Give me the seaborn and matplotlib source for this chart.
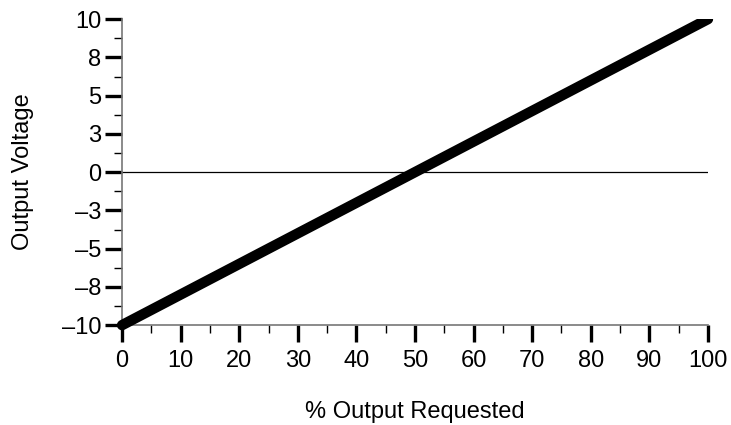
import matplotlib
matplotlib.use('Agg')
import matplotlib.pyplot as plt
from matplotlib.patches import Rectangle
import seaborn as sns
import pandas as pd

# data
pct_requested = [0, 100]
output_volts = [-10, 10]

y_ticks = [-10, -7.5, -5, -2.5, 0, 2.5, 5, 7.5, 10]
y_tick_labels = ['\u201310', '\u20138', '\u20135', '\u20133', '0', '3', '5', '8', '10']
x_ticks = [0, 10, 20, 30, 40, 50, 60, 70, 80, 90, 100]

sns.set_style('ticks')
plt.rcParams['font.family'] = ['Liberation Sans', 'DejaVu Sans']
plt.rcParams['text.color'] = 'black'
plt.rcParams['axes.labelcolor'] = 'black'
plt.rcParams['xtick.labelcolor'] = 'black'
plt.rcParams['ytick.labelcolor'] = 'black'

df = pd.DataFrame({'pct': pct_requested, 'volts': output_volts})

fig = plt.figure(figsize=(7.31, 4.25), dpi=100)
ax = fig.add_axes([0.167, 0.235, 0.8015, 0.72])

ax.axhline(0, color='black', lw=0.9, zorder=2)
sns.lineplot(data=df, x='pct', y='volts', ax=ax, color='black', lw=7.5,
             solid_capstyle='round', zorder=3)

# let the round cap at the low end show, but cut the line at the top
clip = Rectangle((-0.05, -0.05), 1.1, 1.05, transform=ax.transAxes,
                 facecolor='none', edgecolor='none')
ax.add_patch(clip)
ax.lines[-1].set_clip_path(clip)

ax.set_xlim(0, 100)
ax.set_ylim(-10, 10)
ax.set_xticks(x_ticks)
ax.set_xticklabels([str(t) for t in x_ticks])
ax.set_yticks(y_ticks)
ax.set_yticklabels(y_tick_labels)
ax.set_xticks([t + 5 for t in x_ticks[:-1]], minor=True)
ax.set_yticks([t + 1.25 for t in y_ticks[:-1]], minor=True)

ax.tick_params(axis='both', which='major', length=12, width=2.4, color='black',
               labelsize=17, labelcolor='black', direction='out')
ax.tick_params(axis='both', which='minor', length=6, width=1, color='black',
               direction='out')
ax.tick_params(axis='y', which='major', pad=3)
ax.tick_params(axis='x', which='major', pad=6)

for side in ['top', 'right']:
    ax.spines[side].set_visible(False)
for side in ['left', 'bottom']:
    ax.spines[side].set_color('#777777')
    ax.spines[side].set_linewidth(1.2)

ax.set_xlabel('% Output Requested', fontsize=17, labelpad=21, color='black')
ax.set_ylabel('Output Voltage', fontsize=17, labelpad=20, color='black')

fig.savefig('out.png', dpi=100)
